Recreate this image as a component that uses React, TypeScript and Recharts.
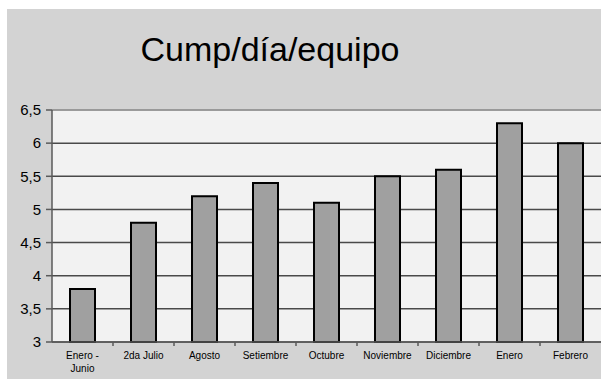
import { BarChart, Bar, XAxis, YAxis, CartesianGrid, ReferenceLine } from "recharts"

const categories = [
  "Enero - Junio",
  "2da Julio",
  "Agosto",
  "Setiembre",
  "Octubre",
  "Noviembre",
  "Diciembre",
  "Enero",
  "Febrero",
]
const cumplimiento = [3.8, 4.8, 5.2, 5.4, 5.1, 5.5, 5.6, 6.3, 6.0]
const yTicks = [3, 3.5, 4, 4.5, 5, 5.5, 6, 6.5]

const data = categories.map((name, i) => ({ name, value: cumplimiento[i] }))

const font = "Arial, 'Liberation Sans', sans-serif"
const axisColor = "#5a5a5a"

function CategoryTick(props: any) {
  const { x, y, payload, index } = props
  const lines = String(payload.value) === "Enero - Junio" ? ["Enero -", "Junio"] : [payload.value]
  const half = 30.5
  return (
    <g>
      {index < categories.length - 1 && (
        <line x1={x + half} x2={x + half} y1={y - 8} y2={y - 4} stroke={axisColor} strokeWidth={1.5} />
      )}
      <text x={x} y={y + 9} textAnchor="middle" fontSize={10} fontFamily={font} fill="#000">
        {lines.map((l: string, j: number) => (
          <tspan key={j} x={x} dy={j === 0 ? 0 : 13}>
            {l}
          </tspan>
        ))}
      </text>
    </g>
  )
}

export default function App() {
  return (
    <div
      style={{
        position: "absolute",
        left: 7,
        top: 9,
        width: 594,
        height: 370,
        background: "#d3d3d3",
        overflow: "hidden",
      }}
    >
      <div
        style={{
          position: "absolute",
          left: 0,
          width: 526,
          top: 20,
          textAlign: "center",
          fontFamily: font,
          fontSize: 34,
          lineHeight: "40px",
          color: "#000",
        }}
      >
        Cump/día/equipo
      </div>
      <BarChart
        width={594}
        height={370}
        data={data}
        margin={{ top: 101, right: 0, bottom: 0, left: 0 }}
        style={{ position: "absolute", left: 0, top: 0 }}
      >
        <CartesianGrid horizontal vertical={false} stroke="#4a4a4a" strokeWidth={1.5} fill="#f2f2f2" strokeOpacity={1} />
        <ReferenceLine y={6.5} stroke="#a8a8a8" strokeWidth={1.5} />
        <XAxis
          dataKey="name"
          height={37}
          interval={0}
          tickLine={false}
          axisLine={{ stroke: axisColor, strokeWidth: 1.5 }}
          tick={<CategoryTick />}
        />
        <YAxis
          width={45}
          domain={[3, 6.5]}
          ticks={yTicks}
          interval={0}
          tickFormatter={(v: number) => String(v).replace(".", ",")}
          axisLine={{ stroke: axisColor, strokeWidth: 1.5 }}
          tickLine={{ stroke: axisColor, strokeWidth: 1.5 }}
          tickSize={6}
          tickMargin={5}
          tick={{ fill: "#000", fontSize: 15, fontFamily: font }}
        />
        <Bar dataKey="value" fill="#a0a0a0" stroke="#000" strokeWidth={2} barSize={25} isAnimationActive={false} />
      </BarChart>
    </div>
  )
}
